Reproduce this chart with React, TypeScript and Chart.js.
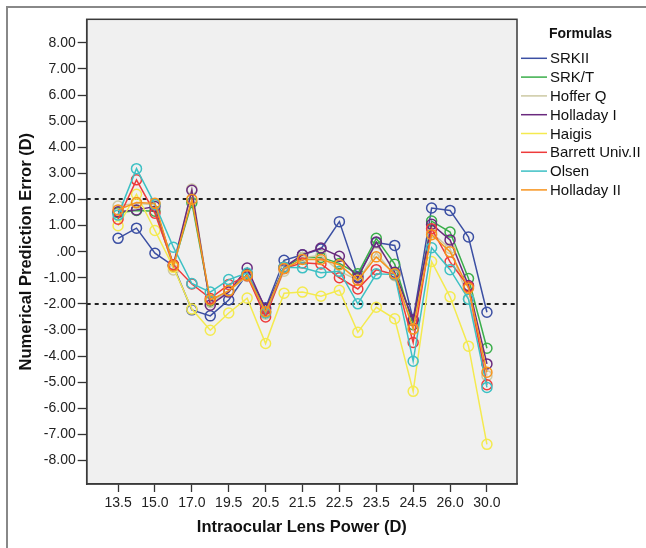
import React, { useEffect, useRef } from "react";
import { Chart, registerables } from "chart.js";

Chart.register(...registerables);

// ---------- data ----------
const lensPowers = ["13.5", "14.5", "15.0", "16.0", "17.0", "18.0", "19.5", "20.0", "20.5", "21.0", "21.5", "22.0", "22.5", "23.0", "23.5", "24.0", "24.5", "25.0", "26.0", "27.0", "30.0"];
const labelEvery = 2;

const yTickValues = [-8, -7, -6, -5, -4, -3, -2, -1, 0, 1, 2, 3, 4, 5, 6, 7, 8];
const yMin = -8.9;
const yMax = 8.9;
const referenceLines = [2, -2];

const formulaNames = ["SRKII", "SRK/T", "Hoffer Q", "Holladay I", "Haigis", "Barrett Univ.II", "Olsen", "Holladay II"];
const formulaColors = ["#3B4FA3", "#3AAE4A", "#CDC9A3", "#6A2A7E", "#F4EA4F", "#EE3B3B", "#3DC0C4", "#F7941E"];

const srkII = [0.51, 0.90, -0.06, -0.55, -2.23, -2.46, -1.85, -0.85, -2.15, -0.33, -0.12, 0.10, 1.15, -0.95, 0.35, 0.24, -2.60, 1.67, 1.58, 0.56, -2.32];
const srkT = [1.49, 1.58, 1.55, -0.55, 1.88, -1.90, -1.50, -0.88, -2.30, -0.60, -0.22, -0.22, -0.45, -0.85, 0.51, -0.48, -2.80, 1.17, 0.75, -1.03, -3.70];
const hofferQ = [1.75, 1.85, 1.80, -0.70, 2.40, -1.95, -1.50, -0.95, -2.40, -0.75, -0.22, -0.15, -0.75, -1.10, -0.04, -0.92, -2.96, 0.72, 0.12, -1.80, -4.75];
const holladayI = [1.53, 1.60, 1.73, -0.50, 2.35, -2.05, -1.55, -0.63, -2.20, -0.60, -0.12, 0.14, -0.18, -1.00, 0.37, -0.79, -2.63, 1.05, 0.45, -1.30, -4.30];
const haigis = [0.99, 2.20, 0.81, -0.60, -2.20, -3.01, -2.35, -1.78, -3.52, -1.59, -1.55, -1.71, -1.48, -3.09, -2.13, -2.57, -5.35, -0.38, -1.73, -3.62, -7.38];
const barrett = [1.24, 2.75, 1.47, -0.50, -1.24, -1.79, -1.26, -0.92, -2.50, -0.65, -0.43, -0.47, -1.00, -1.43, -0.69, -0.88, -3.48, 0.88, -0.39, -1.34, -5.10];
const olsen = [1.40, 3.18, 1.81, 0.17, -1.22, -1.55, -1.07, -0.82, -2.35, -0.60, -0.62, -0.81, -0.75, -2.00, -0.85, -0.88, -4.20, 0.15, -0.69, -1.82, -5.20];
const holladayII = [1.60, 1.88, 1.85, -0.55, 2.00, -1.85, -1.50, -0.90, -2.30, -0.65, -0.30, -0.30, -0.50, -1.10, -0.20, -0.85, -2.96, 0.65, 0.00, -1.40, -4.62];

const seriesValues = [srkII, srkT, hofferQ, holladayI, haigis, barrett, olsen, holladayII];

const FONT = "'Liberation Sans', Arial, Helvetica, sans-serif";

function formatTick(v: number): string {
  if (v === 0) return ".00";
  return v.toFixed(2);
}

const decorPlugin = {
  id: "decor",
  beforeDraw(chart: any) {
    const { ctx, chartArea: a } = chart;
    ctx.save();
    ctx.fillStyle = "#F0F0F0";
    ctx.fillRect(a.left, a.top, a.right - a.left, a.bottom - a.top);
    ctx.restore();
  },
  beforeDatasetsDraw(chart: any) {
    const { ctx, chartArea: a } = chart;
    const ys = chart.scales.y;
    ctx.save();
    ctx.strokeStyle = "#222";
    ctx.lineWidth = 2;
    ctx.setLineDash([4, 4]);
    referenceLines.forEach((v) => {
      const py = Math.round(ys.getPixelForValue(v));
      ctx.beginPath();
      ctx.moveTo(a.left, py);
      ctx.lineTo(a.right, py);
      ctx.stroke();
    });
    ctx.restore();
  },
  afterDraw(chart: any) {
    const { ctx, chartArea: a } = chart;
    ctx.save();
    ctx.strokeStyle = "#3a3a3a";
    ctx.lineWidth = 1.5;
    ctx.strokeRect(a.left, a.top, a.right - a.left, a.bottom - a.top);

    // legend
    const textX = a.right + 33;
    ctx.fillStyle = "#111";
    ctx.textBaseline = "middle";
    ctx.textAlign = "left";
    ctx.font = `bold 14px ${FONT}`;
    ctx.fillText("Formulas", textX - 1, a.top + 15);
    ctx.font = `15px ${FONT}`;
    formulaNames.forEach((name, i) => {
      const y = a.top + 39 + i * 18.8;
      ctx.strokeStyle = formulaColors[i];
      ctx.lineWidth = 1.5;
      ctx.beginPath();
      ctx.moveTo(a.right + 4, y);
      ctx.lineTo(a.right + 30, y);
      ctx.stroke();
      ctx.fillStyle = "#111";
      ctx.fillText(name, textX, y + 1);
    });
    ctx.restore();
  },
};

export default function App() {
  const canvasRef = useRef<HTMLCanvasElement | null>(null);

  useEffect(() => {
    if (!canvasRef.current) return;
    Chart.defaults.font.family = FONT;

    const datasets = formulaNames.map((name, i) => ({
      label: name,
      data: seriesValues[i].map((v, idx) => ({ x: idx, y: v })),
      borderColor: formulaColors[i],
      backgroundColor: formulaColors[i],
      borderWidth: 1.5,
      pointRadius: 5,
      pointBorderWidth: 1.5,
      pointBackgroundColor: "rgba(0,0,0,0)",
      pointBorderColor: formulaColors[i],
      tension: 0,
      order: formulaNames.length - i,
    }));

    const chart = new Chart(canvasRef.current, {
      type: "line",
      data: { datasets },
      plugins: [decorPlugin],
      options: {
        responsive: false,
        animation: false,
        layout: { padding: { top: 11.3, right: 129, left: 0, bottom: 0 } },
        plugins: {
          legend: { display: false },
          tooltip: { enabled: false },
        },
        scales: {
          x: {
            type: "linear",
            min: -1.7,
            max: 21.63,
            afterBuildTicks: (scale: any) => {
              scale.ticks = lensPowers
                .map((_, i) => ({ value: i }))
                .filter((t) => t.value % labelEvery === 0);
            },
            afterFit: (scale: any) => {
              scale.height = 64;
            },
            ticks: {
              autoSkip: false,
              maxRotation: 0,
              callback: (v: any) => lensPowers[Math.round(Number(v))],
              font: { size: 14 },
              color: "#222",
              padding: 2.6,
            },
            grid: {
              drawOnChartArea: false,
              drawTicks: true,
              tickLength: 8,
              tickColor: "#333",
              tickWidth: 1.3,
            },
            border: { display: true, color: "#3a3a3a", width: 1.5 },
            title: {
              display: true,
              text: "Intraocular Lens Power (D)",
              font: { size: 16.5, weight: "bold" },
              color: "#111",
              padding: { top: 4, bottom: 11.1 },
            },
          },
          y: {
            type: "linear",
            min: yMin,
            max: yMax,
            afterBuildTicks: (scale: any) => {
              scale.ticks = yTickValues.map((v) => ({ value: v }));
            },
            afterFit: (scale: any) => {
              scale.width = 78.7;
            },
            ticks: {
              callback: (v: any) => formatTick(Number(v)),
              font: { size: 14 },
              color: "#222",
              padding: 2,
            },
            grid: {
              drawOnChartArea: false,
              drawTicks: true,
              tickLength: 9,
              tickColor: "#333",
              tickWidth: 1.3,
            },
            border: { display: true, color: "#3a3a3a", width: 1.5 },
            title: {
              display: true,
              text: "Numerical Prediction Error (D)",
              font: { size: 16.5, weight: "bold" },
              color: "#111",
              padding: { top: 8.1, bottom: 0 },
            },
          },
        },
      },
    } as any);

    return () => chart.destroy();
  }, []);

  return (
    <div
      style={{
        position: "absolute",
        left: 6,
        top: 6,
        width: 640,
        height: 542,
        boxSizing: "border-box",
        borderLeft: "2px solid #888",
        borderTop: "2px solid #888",
        background: "#fff",
        overflow: "hidden",
      }}
    >
      <canvas ref={canvasRef} width={638} height={540} style={{ display: "block", width: 638, height: 540 }} />
    </div>
  );
}
